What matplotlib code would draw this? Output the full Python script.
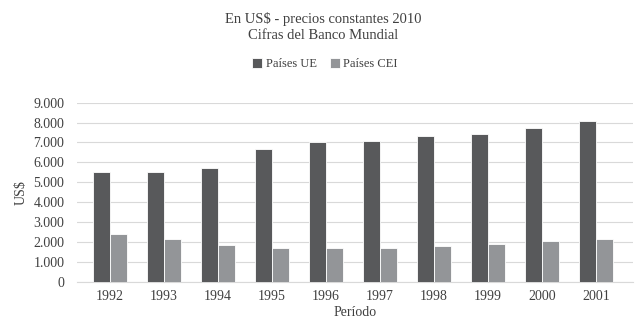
import numpy as np
import matplotlib
matplotlib.use('Agg')
import matplotlib.pyplot as plt
from matplotlib.ticker import FuncFormatter

years = ['1992', '1993', '1994', '1995', '1996', '1997', '1998', '1999', '2000', '2001']
paises_ue = [5500, 5500, 5720, 6690, 7010, 7070, 7310, 7420, 7710, 8070]
paises_cei = [2390, 2140, 1850, 1705, 1705, 1705, 1790, 1905, 2040, 2155]

TXT = '#404040'
plt.rcParams['font.family'] = ['Liberation Serif', 'DejaVu Serif']

fig = plt.figure(figsize=(6.4, 3.29), dpi=100)
ax = fig.add_axes([0.120, 0.143, 0.869, 0.545])

x = np.arange(len(years))
w = 0.315
ax.bar(x - w / 2, paises_ue, w, color='#58595b', edgecolor='white', linewidth=0.6,
       label='Países UE', zorder=3)
ax.bar(x + w / 2, paises_cei, w, color='#939598', edgecolor='white', linewidth=0.6,
       label='Países CEI', zorder=3)

ax.set_xlim(-0.61, 9.685)
ax.set_ylim(0, 9000)
ax.set_yticks(range(0, 9001, 1000))
ax.yaxis.set_major_formatter(FuncFormatter(lambda v, p: f'{int(v):,}'.replace(',', '.')))
ax.set_xticks(x)
ax.set_xticklabels(years)
ax.grid(axis='y', color='#d9d9d9', linewidth=0.8, zorder=0)
for s in ['top', 'right', 'left']:
    ax.spines[s].set_visible(False)
ax.spines['bottom'].set_color('#d9d9d9')
ax.tick_params(length=0, labelsize=10, labelcolor=TXT)
ax.tick_params(axis='x', pad=6)
ax.tick_params(axis='y', pad=9)
ax.set_xlabel('Período', fontsize=10, color=TXT, labelpad=2)
ax.set_ylabel('US$', fontsize=10, color=TXT, labelpad=4)

fig.text(0.505, 0.965, 'En US$ - precios constantes 2010\nCifras del Banco Mundial',
         ha='center', va='top', fontsize=10.5, color=TXT, linespacing=1.3)
fig.legend(loc='center', bbox_to_anchor=(0.508, 0.805), ncol=2, frameon=False,
           fontsize=9, labelcolor=TXT, handlelength=0.8, handleheight=0.8,
           handletextpad=0.3, columnspacing=1.0)

fig.savefig('out.png', dpi=100)
